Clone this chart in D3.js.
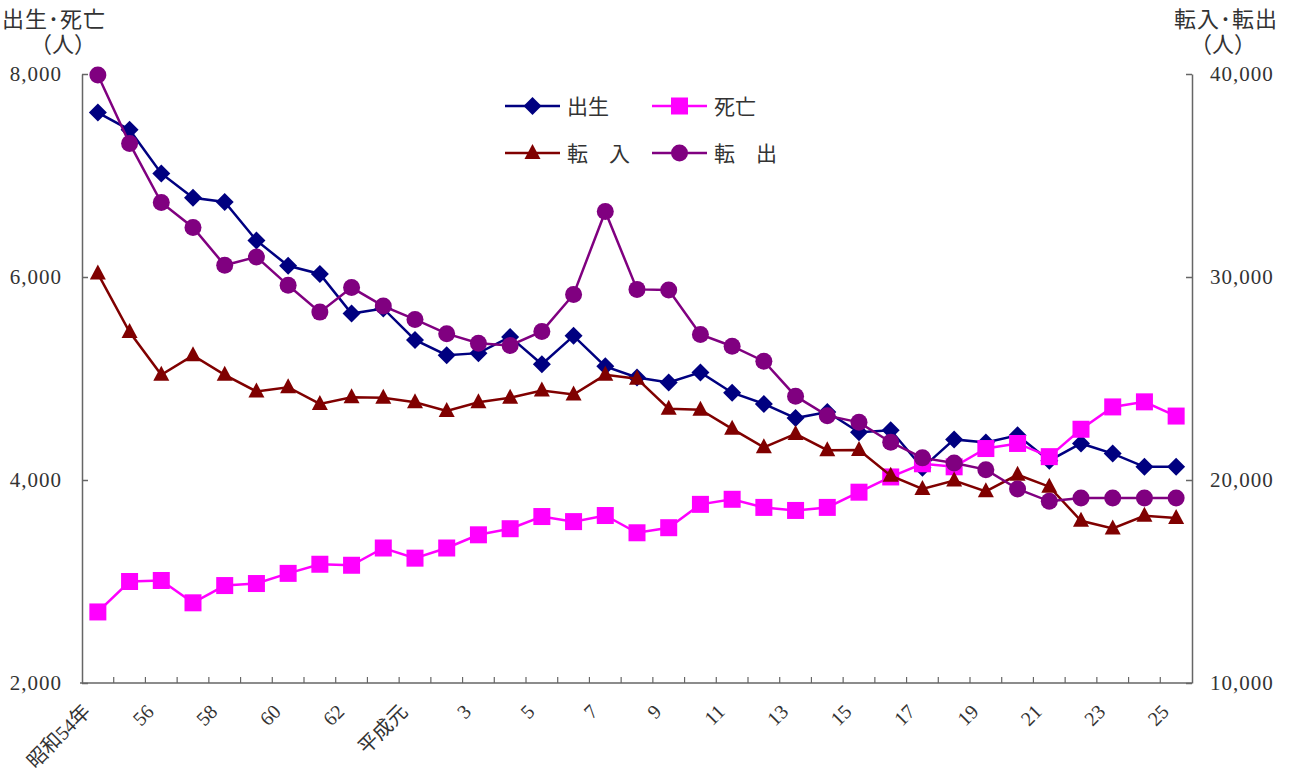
<!DOCTYPE html>
<html>
<head>
<meta charset="utf-8">
<script src="https://cdn.jsdelivr.net/npm/d3@7"></script>
<style>
  body { margin: 0; background: #fff; }
  text { font-family: "Liberation Serif", "Noto Sans CJK JP", serif; fill: #333; }
</style>
</head>
<body>
<script>
// 年次
var years = ["昭和54年","55","56","57","58","59","60","61","62","63",
  "平成元","2","3","4","5","6","7","8","9","10","11","12","13","14","15",
  "16","17","18","19","20","21","22","23","24","25"];

// 出生・死亡 (左軸)
var births = [7620,7450,7020,6780,6740,6360,6110,6030,5640,5690,
  5380,5230,5250,5410,5140,5420,5120,5010,4960,5060,4860,4750,4610,4670,4470,
  4490,4120,4400,4370,4440,4190,4360,4260,4130,4130];
var deaths = [2700,3000,3010,2790,2960,2980,3080,3170,3160,3330,
  3230,3330,3460,3520,3640,3590,3650,3480,3530,3760,3810,3730,3700,3730,3880,
  4030,4160,4130,4310,4360,4230,4500,4720,4770,4630];

// 転入・転出 (右軸)
var movesIn = [30170,27290,25180,26140,25180,24360,24570,23750,24080,24050,
  23830,23400,23830,24050,24410,24210,25180,24990,23510,23460,22520,21610,22270,21470,21480,
  20210,19560,19970,19440,20260,19670,17990,17610,18240,18130];
var movesOut = [39950,36580,33670,32440,30580,30990,29590,28270,29480,28570,
  27910,27210,26740,26630,27320,29140,33230,29390,29360,27170,26590,25850,24130,23170,22840,
  21860,21090,20840,20510,19560,18950,19110,19110,19110,19110];

var leftTicks = [2000,4000,6000,8000];
var rightTicks = [10000,20000,30000,40000];

var W = 1292, H = 776;
var margin = {top:74, right:100, bottom:93, left:82};
var iw = W - margin.left - margin.right, ih = H - margin.top - margin.bottom;

var svg = d3.select("body").append("svg")
  .attr("width", W).attr("height", H);

var g = svg.append("g").attr("transform","translate("+margin.left+","+margin.top+")");

var x = d3.scaleBand().domain(d3.range(years.length)).range([0, iw]).padding(0);
var yL = d3.scaleLinear().domain([2000, 8000]).range([ih, 0]);
var yR = d3.scaleLinear().domain([10000, 40000]).range([ih, 0]);
var fmt = d3.format(",");

var axisColor = "#666";

// 左軸
var gl = g.append("g")
  .call(d3.axisLeft(yL).tickValues(leftTicks).tickSizeInner(-6).tickSizeOuter(0).tickPadding(20).tickFormat(fmt));
// 右軸
var gr = g.append("g").attr("transform","translate("+iw+",0)")
  .call(d3.axisRight(yR).tickValues(rightTicks).tickSizeInner(-6).tickSizeOuter(0).tickPadding(18).tickFormat(fmt));

[gl, gr].forEach(function(a){
  a.selectAll("path, line").attr("stroke", axisColor).attr("stroke-width", 1.5);
  a.selectAll("text").attr("font-size", 21).attr("letter-spacing", 1).attr("fill","#333");
});

// 横軸
var gx = g.append("g").attr("transform","translate(0,"+ih+")");
gx.append("line").attr("x1", -2).attr("x2", iw).attr("y1",0).attr("y2",0)
  .attr("stroke", axisColor).attr("stroke-width", 1.5);
gx.selectAll("line.tick").data(d3.range(1, years.length))
  .enter().append("line").attr("class","tick")
  .attr("x1", function(i){ return x(i); }).attr("x2", function(i){ return x(i); })
  .attr("y1", 0).attr("y2", -6)
  .attr("stroke", axisColor).attr("stroke-width", 1.2);
gx.selectAll("text").data(d3.range(0, years.length, 2))
  .enter().append("text")
  .attr("transform", function(i){
    return "translate(" + (x(i) + x.bandwidth()/2 - 16) + ",20) rotate(-45)";
  })
  .attr("text-anchor","end")
  .attr("dy","0.7em")
  .attr("font-size", 20)
  .text(function(i){ return years[i]; });

// 系列
var series = [
  {name:"出生", data:births, y:yL, color:"#000080", shape:"diamond"},
  {name:"死亡", data:deaths, y:yL, color:"#FF00FF", shape:"square"},
  {name:"転　入", data:movesIn, y:yR, color:"#800000", shape:"triangle"},
  {name:"転　出", data:movesOut, y:yR, color:"#800080", shape:"circle"}
];

function marker(sel, shape, color) {
  if (shape == "diamond") {
    sel.append("path").attr("d","M0,-9L9,0L0,9L-9,0Z").attr("fill",color);
  } else if (shape == "square") {
    sel.append("rect").attr("x",-8.5).attr("y",-8.5).attr("width",17).attr("height",17).attr("fill",color);
  } else if (shape == "triangle") {
    sel.append("path").attr("d","M0,-9L8,6L-8,6Z").attr("fill",color);
  } else {
    sel.append("circle").attr("r",8.5).attr("fill",color);
  }
}

series.forEach(function(s){
  var line = d3.line()
    .x(function(d,i){ return x(i) + x.bandwidth()/2; })
    .y(function(d){ return s.y(d); });
  g.append("path").datum(s.data)
    .attr("d", line).attr("fill","none")
    .attr("stroke", s.color).attr("stroke-width", 2.5);
  g.selectAll("g.m-"+s.shape).data(s.data)
    .enter().append("g").attr("class","m-"+s.shape)
    .attr("transform", function(d,i){
      return "translate(" + (x(i) + x.bandwidth()/2) + "," + s.y(d) + ")";
    })
    .each(function(){ marker(d3.select(this), s.shape, s.color); });
});

// 凡例
var legend = svg.append("g");
var legPos = [[505,106],[652,106],[505,153],[652,153]];
series.forEach(function(s, k){
  var lg = legend.append("g").attr("transform","translate("+legPos[k][0]+","+legPos[k][1]+")");
  lg.append("line").attr("x1",0).attr("x2",55).attr("y1",0).attr("y2",0)
    .attr("stroke", s.color).attr("stroke-width", 2.5);
  marker(lg.append("g").attr("transform","translate(27.5,0)"), s.shape, s.color);
  lg.append("text").attr("x", 62).attr("y", 8).attr("font-size", 21).text(s.name);
});

// 軸タイトル
svg.append("text").attr("x", 2).attr("y", 27).attr("font-size", 22).attr("letter-spacing", 1).text("出生･死亡");
svg.append("text").attr("x", 63).attr("y", 52).attr("font-size", 22).attr("text-anchor","middle").text("（人）");
svg.append("text").attr("x", 1278).attr("y", 27).attr("font-size", 22).attr("letter-spacing", 1).attr("text-anchor","end").text("転入･転出");
svg.append("text").attr("x", 1223).attr("y", 52).attr("font-size", 22).attr("text-anchor","middle").text("（人）");
</script>
</body>
</html>
